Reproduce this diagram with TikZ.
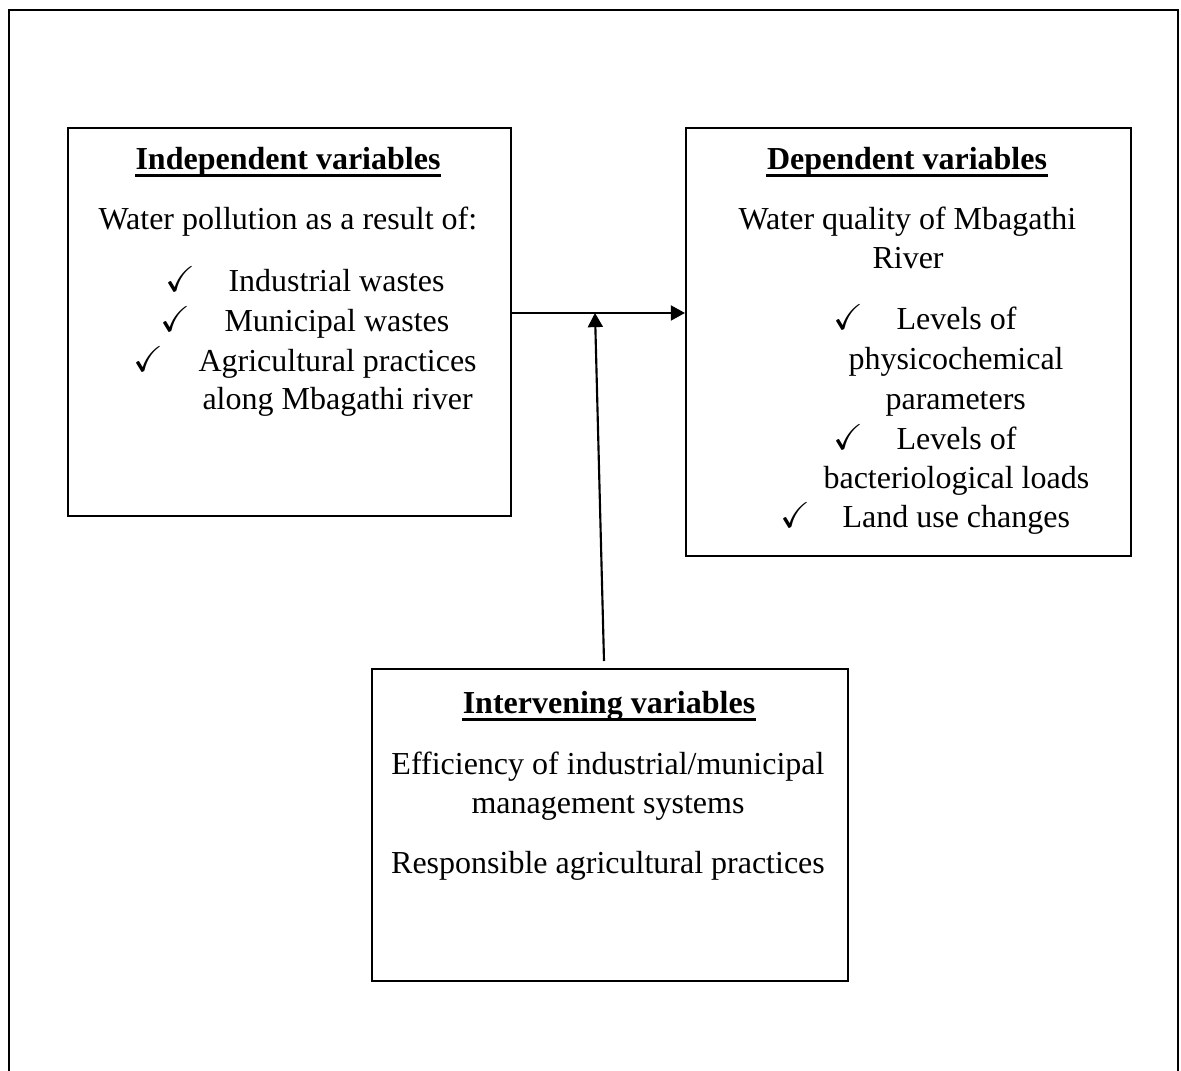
\documentclass[tikz,border=0pt]{standalone}
\usepackage{amssymb}
\usepackage{fontspec}
\setmainfont{Liberation Serif}
\usetikzlibrary{arrows.meta}
\newcommand{\pxu}{0.375pt}
\tikzset{
  varbox/.style={draw, line width=0.9pt, anchor=north west, inner sep=0pt},
  txt/.style={inner sep=0pt, anchor=base west, font=\fontsize{12}{15}\selectfont},
  head/.style={txt, anchor=base, font=\fontsize{12}{15}\selectfont\bfseries},
  rule/.style={line width=1.1pt},
  tick/.style={inner sep=0pt, anchor=base, font=\fontsize{13.5}{15}\selectfont},
  link/.style={line width=0.8pt, -{Triangle[length=5.3pt,width=5.6pt]}}
}
\begin{document}
\begin{tikzpicture}[x=\pxu, y=-\pxu]
  \useasboundingbox (0,0) rectangle (1181,1071);
  % outer frame
  \draw[line width=0.8pt] (9,1075) -- (9,10) -- (1178,10) -- (1178,1075);
  % boxes
  \node[varbox, minimum width=443*\pxu, minimum height=388*\pxu] (indep) at (67,127) {};
  \node[varbox, minimum width=445*\pxu, minimum height=428*\pxu] (dep) at (685,127) {};
  \node[varbox, minimum width=476*\pxu, minimum height=312*\pxu] (interv) at (371,668) {};
  % independent variables
  \node[head] (indephead) at (288,170) {Independent variables};
  \draw[rule] ([yshift=-2pt]indephead.base west) -- ([yshift=-2pt]indephead.base east);
  \node[txt] (pollution) at (98,230) {Water pollution as a result of:};
  \node[tick] (tickA) at (180,292) {$\checkmark$};
  \node[txt] (industrial) at (228,292) {Industrial wastes};
  \node[tick] (tickB) at (175,332) {$\checkmark$};
  \node[txt] (municipal) at (224,332) {Municipal wastes};
  \node[tick] (tickC) at (148,372) {$\checkmark$};
  \node[txt] (agri) at (198,372) {Agricultural practices};
  \node[txt] (along) at (202,410) {along Mbagathi river};
  % dependent variables
  \node[head] (dephead) at (907,170) {Dependent variables};
  \draw[rule] ([yshift=-2pt]dephead.base west) -- ([yshift=-2pt]dephead.base east);
  \node[txt] (quality) at (738,230) {Water quality of Mbagathi};
  \node[txt] (river) at (872,269) {River};
  \node[tick] (tickD) at (848,330) {$\checkmark$};
  \node[txt] (levelsA) at (896,330) {Levels of};
  \node[txt] (physico) at (848,370) {physicochemical};
  \node[txt] (params) at (885,410) {parameters};
  \node[tick] (tickE) at (848,450) {$\checkmark$};
  \node[txt] (levelsB) at (896,450) {Levels of};
  \node[txt] (bacterio) at (823,489) {bacteriological loads};
  \node[tick] (tickF) at (795,528) {$\checkmark$};
  \node[txt] (landuse) at (842,528) {Land use changes};
  % intervening variables
  \node[head] (intervhead) at (609,714) {Intervening variables};
  \draw[rule] ([yshift=-2pt]intervhead.base west) -- ([yshift=-2pt]intervhead.base east);
  \node[txt, anchor=base] (efficiency) at (608,775) {Efficiency of industrial/municipal};
  \node[txt, anchor=base] (management) at (608,814) {management systems};
  \node[txt, anchor=base] (responsible) at (608,874) {Responsible agricultural practices};
  % arrows
  \coordinate (meet) at (595,313);
  \coordinate (foot) at (604,661);
  \draw[link] (indep.east |- meet) -- (dep.west |- meet);
  \draw[link] (foot) -- (meet);
\end{tikzpicture}
\end{document}
